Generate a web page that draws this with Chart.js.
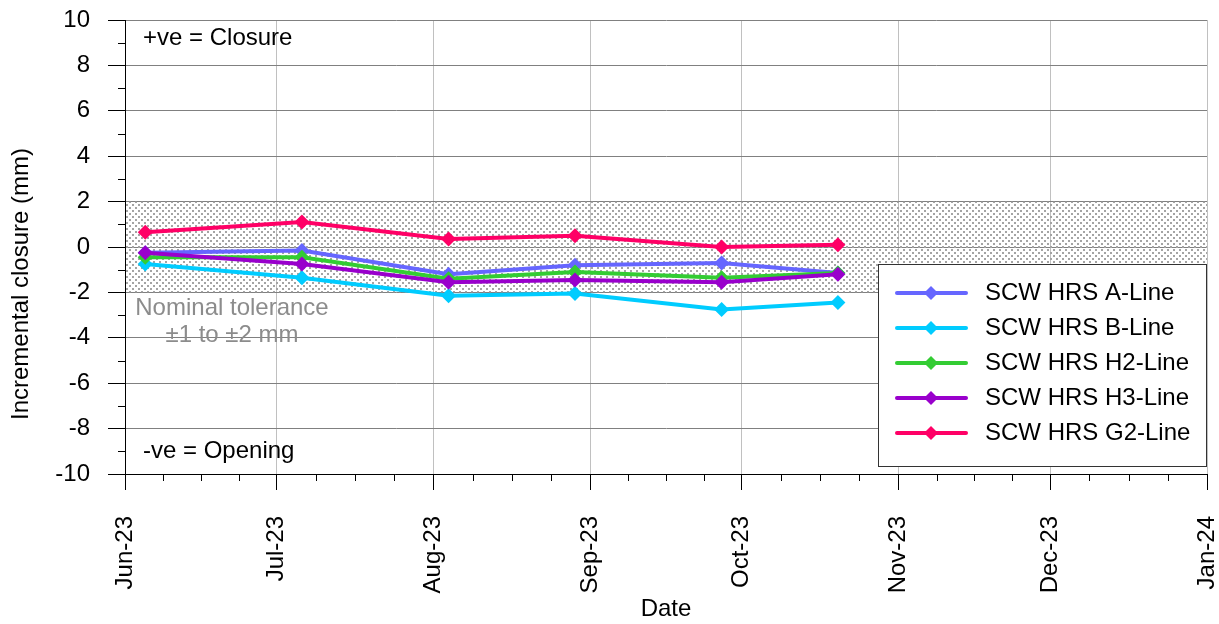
<!DOCTYPE html>
<html>
<head>
<meta charset="utf-8">
<script src="https://cdn.jsdelivr.net/npm/chart.js@4.4.1/dist/chart.umd.min.js"></script>
<style>
  html, body { margin: 0; padding: 0; background: #fff; }
  #wrap { width: 1219px; height: 624px; }
</style>
</head>
<body>
<div id="wrap"><canvas id="chart" width="1219" height="624"></canvas></div>
<script>
// Survey dates and incremental closure readings (mm)
const surveyDates = ['2023-06-05', '2023-07-06', '2023-08-04', '2023-08-29', '2023-09-27', '2023-10-20'];
const aLine  = [-0.25, -0.15, -1.2, -0.8, -0.7, -1.15];
const bLine  = [-0.75, -1.35, -2.15, -2.05, -2.75, -2.45];
const h2Line = [-0.45, -0.45, -1.4, -1.1, -1.35, -1.15];
const h3Line = [-0.25, -0.75, -1.55, -1.45, -1.55, -1.2];
const g2Line = [0.65, 1.1, 0.35, 0.5, 0.0, 0.1];

const seriesLabels = ['SCW HRS A-Line', 'SCW HRS B-Line', 'SCW HRS H2-Line', 'SCW HRS H3-Line', 'SCW HRS G2-Line'];
const seriesColors = ['#6666ff', '#00ccff', '#33cc33', '#9900cc', '#ff0066'];

// month ticks Jun-23 .. Jan-24
const monthTicks = [[2023, 5], [2023, 6], [2023, 7], [2023, 8], [2023, 9], [2023, 10], [2023, 11], [2024, 0]];
const monthNames = ['Jan', 'Feb', 'Mar', 'Apr', 'May', 'Jun', 'Jul', 'Aug', 'Sep', 'Oct', 'Nov', 'Dec'];

const toleranceBand = [-2, 2];
const FONT = "'Liberation Sans', Arial, sans-serif";
const FS = 24;

const toMs = s => Date.parse(s + 'T00:00:00Z');
const tickValues = monthTicks.map(m => Date.UTC(m[0], m[1], 1));

function fmtMonth(v) {
    const d = new Date(v);
    return monthNames[d.getUTCMonth()] + '-' + String(d.getUTCFullYear()).slice(2);
}

function makeSeries(values) {
    return values.map((v, i) => ({ x: toMs(surveyDates[i]), y: v }));
}

const allSeries = [aLine, bLine, h2Line, h3Line, g2Line];
const datasets = allSeries.map((vals, i) => ({
    label: seriesLabels[i],
    data: makeSeries(vals),
    borderColor: seriesColors[i],
    backgroundColor: seriesColors[i],
    borderWidth: 4,
    pointStyle: 'rectRot',
    pointRadius: 7.5,
    pointHoverRadius: 7.5,
    pointBorderWidth: 0,
    tension: 0,
    order: allSeries.length - i   // later series on top, like the original
}));

// dotted fill for the tolerance band
function dotPattern() {
    const c = document.createElement('canvas');
    c.width = 6; c.height = 6;
    const g = c.getContext('2d');
    g.fillStyle = '#a4a4a4';
    g.fillRect(0, 0, 2, 2);
    g.fillRect(3, 3, 2, 2);
    return g.createPattern(c, 'repeat');
}

const bandPlugin = {
    id: 'band',
    beforeDatasetsDraw(chart) {
        const { ctx, chartArea, scales } = chart;
        const yTop = scales.y.getPixelForValue(toleranceBand[1]);
        const yBot = scales.y.getPixelForValue(toleranceBand[0]);
        ctx.save();
        ctx.fillStyle = dotPattern();
        ctx.fillRect(chartArea.left + 1, yTop, chartArea.right - chartArea.left - 1, yBot - yTop);
        ctx.restore();
    }
};

// minor ticks: quarter months on x, odd values on y
const minorTicksPlugin = {
    id: 'minorTicks',
    afterDraw(chart) {
        const { ctx, chartArea, scales } = chart;
        ctx.save();
        ctx.strokeStyle = '#000';
        ctx.lineWidth = 1;
        ctx.beginPath();
        for (let i = 0; i < tickValues.length - 1; i++) {
            const a = tickValues[i], b = tickValues[i + 1];
            for (let k = 1; k < 4; k++) {
                const x = Math.round(scales.x.getPixelForValue(a + (b - a) * k / 4)) + 0.5;
                ctx.moveTo(x, chartArea.bottom);
                ctx.lineTo(x, chartArea.bottom + 7);
            }
        }
        for (let v = -9; v <= 9; v += 2) {
            const y = Math.round(scales.y.getPixelForValue(v)) + 0.5;
            ctx.moveTo(chartArea.left - 7, y);
            ctx.lineTo(chartArea.left, y);
        }
        ctx.stroke();
        ctx.restore();
    }
};

const notesPlugin = {
    id: 'notes',
    afterDatasetsDraw(chart) {
        const { ctx } = chart;
        ctx.save();
        ctx.font = FS + 'px ' + FONT;
        ctx.textBaseline = 'middle';
        ctx.fillStyle = '#000';
        ctx.textAlign = 'left';
        ctx.fillText('+ve = Closure', 143, 38);
        ctx.fillText('-ve = Opening', 143, 451);
        ctx.fillStyle = '#8c8c8c';
        ctx.textAlign = 'center';
        ctx.fillText('Nominal tolerance', 232, 308);
        ctx.fillText('\u00b11 to \u00b12 mm', 232, 335);
        // y axis title, sits a little below the axis middle in the original
        ctx.fillStyle = '#000';
        ctx.translate(21, 284);
        ctx.rotate(-Math.PI / 2);
        ctx.fillText('Incremental closure (mm)', 0, 0);
        ctx.restore();
    }
};

// legend box inside the plot, bottom right
const legendPlugin = {
    id: 'boxLegend',
    afterDraw(chart) {
        const { ctx } = chart;
        const bx = 878.5, by = 264.5, bw = 328, bh = 202;
        ctx.save();
        ctx.fillStyle = '#fff';
        ctx.fillRect(bx, by, bw, bh);
        ctx.strokeStyle = '#333';
        ctx.lineWidth = 1;
        ctx.strokeRect(bx, by, bw, bh);
        ctx.font = FS + 'px ' + FONT;
        ctx.textBaseline = 'middle';
        ctx.textAlign = 'left';
        chart.data.datasets.forEach((ds, i) => {
            const y = 293 + i * 35;
            ctx.strokeStyle = ds.borderColor;
            ctx.lineWidth = 4;
            ctx.lineCap = 'round';
            ctx.beginPath();
            ctx.moveTo(897, y);
            ctx.lineTo(966, y);
            ctx.stroke();
            ctx.fillStyle = ds.borderColor;
            ctx.beginPath();
            ctx.moveTo(931, y - 7);
            ctx.lineTo(938, y);
            ctx.lineTo(931, y + 7);
            ctx.lineTo(924, y);
            ctx.closePath();
            ctx.fill();
            ctx.fillStyle = '#000';
            ctx.fillText(ds.label, 985, y);
        });
        ctx.restore();
    }
};

new Chart(document.getElementById('chart'), {
    type: 'line',
    data: { datasets: datasets },
    plugins: [bandPlugin, notesPlugin, minorTicksPlugin, legendPlugin],
    options: {
        responsive: false,
        animation: false,
        layout: { padding: { top: 20, right: 12, left: 0, bottom: 0 } },
        plugins: { legend: { display: false }, tooltip: { enabled: false } },
        scales: {
            x: {
                type: 'linear',
                min: tickValues[0],
                max: tickValues[tickValues.length - 1],
                afterBuildTicks: scale => { scale.ticks = tickValues.map(v => ({ value: v })); },
                afterFit: scale => {
                    scale.height = 150;
                    scale.paddingLeft = 0;
                    scale.paddingRight = 0;
                },
                ticks: {
                    autoSkip: false,
                    minRotation: 90,
                    maxRotation: 90,
                    padding: 26,
                    color: '#000',
                    font: { family: FONT, size: FS },
                    callback: v => fmtMonth(v)
                },
                grid: { color: '#c0c0c0', tickColor: '#000', tickLength: 16 },
                border: { color: '#000', width: 1 },
                title: {
                    display: true, text: 'Date', color: '#000',
                    font: { family: FONT, size: FS },
                    padding: { top: 0, bottom: 0 }
                }
            },
            y: {
                min: -10,
                max: 10,
                afterFit: scale => {
                    scale.width = 125;
                    scale.paddingTop = 0;
                    scale.paddingBottom = 0;
                },
                ticks: {
                    stepSize: 2,
                    padding: 18,
                    color: '#000',
                    font: { family: FONT, size: FS }
                },
                grid: { color: '#808080', tickColor: '#000', tickLength: 17 },
                border: { color: '#000', width: 1 }
            }
        }
    }
});
</script>
</body>
</html>
